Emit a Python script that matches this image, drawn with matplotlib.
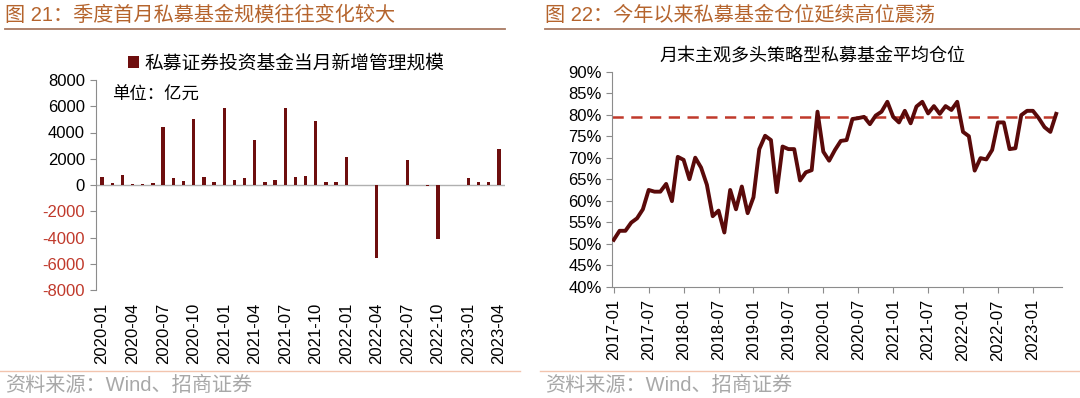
import numpy as np
import pandas as pd
import matplotlib
matplotlib.use('Agg')
import matplotlib.pyplot as plt

plt.rcParams['font.family'] = ['Liberation Sans', 'Noto Sans CJK SC']
plt.rcParams['axes.unicode_minus'] = False

## data: left panel, monthly new AUM of private securities funds (100m CNY)
months_l = [d.strftime('%Y-%m') for d in pd.date_range('2020-01', '2023-04', freq='MS')]
flow = [600, 180, 800, 100, 100, 130, 4400, 550, 300, 5000, 630, 230,
        5850, 400, 550, 3450, 250, 350, 5850, 630, 680, 4850, 250, 200,
        2170, 0, 0, -5550, 0, 0, 1900, 0, -50, -4100, 0, 0,
        530, 200, 230, 2720]

## data: right panel, average position of long-only private funds (%)
months_r = [d.strftime('%Y-%m') for d in pd.date_range('2017-01', '2023-05', freq='MS')]
pos = [50.9, 53.0, 53.0, 54.9, 55.9, 58.0, 62.5, 62.1, 62.1, 63.9,
       59.9, 70.2, 69.5, 65.0, 70.0, 67.7, 63.7, 56.4, 57.7, 52.6,
       62.5, 58.0, 63.3, 57.1, 60.8, 72.0, 75.1, 74.1, 62.0, 72.6,
       72.0, 72.0, 64.7, 66.6, 67.1, 80.7, 71.4, 69.3, 71.8, 73.9,
       74.1, 79.0, 79.2, 79.5, 77.8, 79.8, 80.7, 83.0, 79.5, 78.2,
       80.9, 78.0, 81.9, 83.0, 80.3, 82.0, 80.2, 82.0, 81.1, 83.0,
       76.0, 75.0, 67.0, 69.9, 69.6, 71.8, 78.2, 78.2, 72.0, 72.2,
       79.9, 80.9, 80.9, 79.2, 77.1, 76.0, 80.2]
pos_ref = 79.4

barc = '#6E0E0E'
linec = '#5A0A0A'
redtxt = '#C0392B'
gray = '#8C8C8C'
titc = '#B5642D'

W, H = 1080, 398
fig = plt.figure(figsize=(W/100, H/100), dpi=100)

def fx(px): return px/W
def fy(py): return 1-py/H

## titles, rules and source lines
fig.text(fx(5), fy(15), '图 21：季度首月私募基金规模往往变化较大', fontsize=14.5, color=titc, va='center', ha='left')
fig.text(fx(545), fy(15), '图 22：今年以来私募基金仓位延续高位震荡', fontsize=14.5, color=titc, va='center', ha='left')
fig.add_artist(plt.Line2D([fx(5), fx(505)], [fy(29), fy(29)], color='#A87A62', lw=1.3))
fig.add_artist(plt.Line2D([fx(545), fx(1080)], [fy(29), fy(29)], color='#A87A62', lw=1.3))
fig.add_artist(plt.Line2D([fx(0), fx(520)], [fy(371), fy(371)], color='#F2C4AE', lw=1))
fig.add_artist(plt.Line2D([fx(540), fx(1080)], [fy(371), fy(371)], color='#F2C4AE', lw=1))
fig.text(fx(5), fy(385), '资料来源：Wind、招商证券', fontsize=14.5, color='#A8A8A8', va='center', ha='left')
fig.text(fx(545), fy(385), '资料来源：Wind、招商证券', fontsize=14.5, color='#A8A8A8', va='center', ha='left')

### left panel
ax = fig.add_axes([fx(96), fy(290), fx(505)-fx(96), fy(80)-fy(290)])
x = np.arange(len(flow))
ax.bar(x, flow, 0.33, color=barc, label='私募证券投资基金当月新增管理规模', zorder=3)
ax.axhline(0, color='#B0B0B0', lw=1, zorder=2)
ax.set_xlim(-0.6, len(flow)-0.4)
ax.set_ylim(-8000, 8000)
ax.set_yticks(np.arange(-8000, 8001, 2000))
ax.set_xticks(x[::3])
ax.set_xticklabels(months_l[::3], rotation=90)
for s in ['top', 'right', 'bottom']:
    ax.spines[s].set_visible(False)
ax.spines['left'].set_color(gray)
ax.tick_params(axis='y', colors=gray, labelsize=12, length=4, pad=4)
ax.tick_params(axis='x', length=0, labelsize=12, pad=9)
for lab, v in zip(ax.get_yticklabels(), ax.get_yticks()):
    lab.set_color(redtxt if v < 0 else 'black')
ax.text(0.04, 0.93, '单位：亿元', transform=ax.transAxes, fontsize=12.5, va='center')
ax.legend(loc='lower center', bbox_to_anchor=(0.465, 0.99), frameon=False, fontsize=13.5,
          handlelength=0.6, handleheight=0.6, handletextpad=0.3, borderpad=0)

### right panel
ax = fig.add_axes([fx(612), fy(286.7), fx(1062)-fx(612), fy(71.7)-fy(286.7)])
xr = np.arange(len(pos))
ax.plot(xr, pos, color=linec, lw=2.8, zorder=3)
ax.axhline(pos_ref, color='#C0392B', lw=1.8, ls=(0, (4.5, 3)), zorder=2)
ax.set_xlim(-0.3, 77)
ax.set_ylim(40, 90)
ax.set_yticks(np.arange(40, 91, 5))
ax.set_yticklabels(['%d%%' % v for v in np.arange(40, 91, 5)])
ax.set_xticks(xr[::6])
ax.set_xticklabels(months_r[::6], rotation=90)
for s in ['top', 'right']:
    ax.spines[s].set_visible(False)
ax.spines['left'].set_color(gray)
ax.spines['bottom'].set_color(gray)
ax.tick_params(axis='both', colors=gray, labelcolor='black', labelsize=12, length=4)
ax.tick_params(axis='x', pad=5)
fig.text(fx(812), fy(57), '月末主观多头策略型私募基金平均仓位', fontsize=13, ha='center', va='center')

plt.savefig('out.png', dpi=100)
